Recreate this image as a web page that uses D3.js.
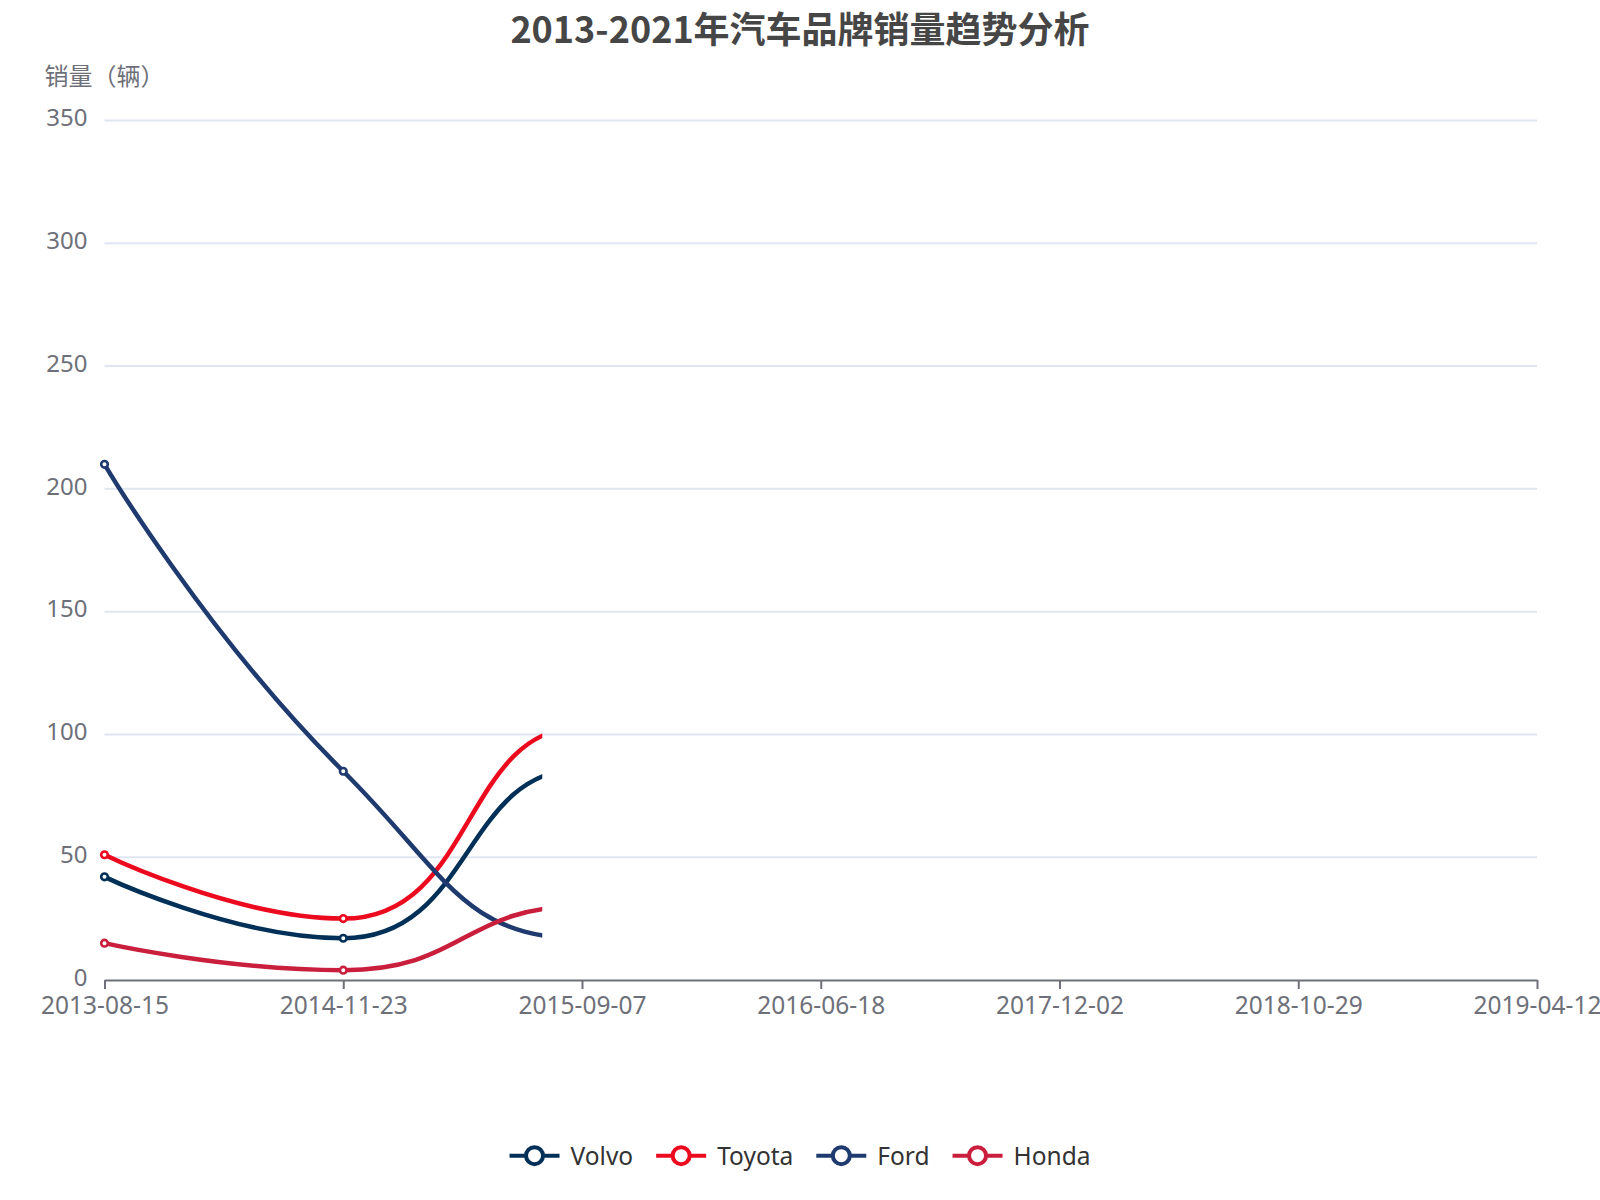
<!DOCTYPE html>
<html>
<head>
<meta charset="utf-8">
<script src="https://cdn.jsdelivr.net/npm/d3@7/dist/d3.min.js"></script>
<style>
  html, body { margin: 0; padding: 0; background: #ffffff; }
  svg { display: block; font-family: "Noto Sans", "Noto Sans CJK SC", sans-serif; }
</style>
</head>
<body>
<svg id="chart" width="1600" height="1200"></svg>
<script>
// ---------------- data ----------------
const titleText = "2013-2021年汽车品牌销量趋势分析";
const yAxisName = "销量（辆）";
const categories = ["2013-08-15", "2014-11-23", "2015-09-07", "2016-06-18", "2017-12-02", "2018-10-29", "2019-04-12"];
const yTicks = [0, 50, 100, 150, 200, 250, 300, 350];
const seriesNames = ["Volvo", "Toyota", "Ford", "Honda"];
const volvoValues  = [42, 17, 86];
const toyotaValues = [51, 25, 103];
const fordValues   = [210, 85, 17];
const hondaValues  = [15, 4, 30];
const seriesColors = ["#003057", "#eb0a1e", "#1f3a6e", "#c91f3c"];

const seriesList = [volvoValues, toyotaValues, fordValues, hondaValues].map((vals, i) => ({
  name: seriesNames[i], color: seriesColors[i],
  points: vals.map((v, j) => ({ cat: categories[j], value: v }))
}));

// ---------------- layout ----------------
const W = 1600, H = 1200;
const plot = { left: 104.5, right: 1537, top: 120.5, bottom: 980 };
const revealFraction = 0.3056; // portion of the line drawn (frame of the reveal)

const svg = d3.select("#chart");

const x = d3.scalePoint().domain(categories).range([plot.left, plot.right]).padding(0);
const y = d3.scaleLinear().domain([0, 350]).range([plot.bottom, plot.top]);

// ---------------- smooth curve (ECharts-like, clamped) ----------------
function SmoothClamped(context) { this._context = context; }
SmoothClamped.prototype = {
  areaStart() { this._line = 0; },
  areaEnd() { this._line = NaN; },
  lineStart() { this._pts = []; },
  point(px, py) { this._pts.push([+px, +py]); },
  lineEnd() {
    const p = this._pts, ctx = this._context, n = p.length, smooth = 0.5;
    if (!n) return;
    ctx.moveTo(p[0][0], p[0][1]);
    let cpx0 = p[0][0], cpy0 = p[0][1];
    for (let i = 1; i < n; i++) {
      const X = p[i][0], Y = p[i][1];
      const PX = p[i - 1][0], PY = p[i - 1][1];
      // final point treated as a turning point (mirror of previous segment)
      const nxt = p[i + 1] || [2 * X - PX, PY];
      const NX = nxt[0], NY = nxt[1];
      let vx = NX - PX, vy = NY - PY;
      const lenPrev = Math.hypot(X - PX, Y - PY);
      const lenNext = Math.hypot(NX - X, NY - Y);
      const ratio = lenNext / (lenNext + lenPrev);
      let nx0 = X + vx * smooth * ratio, ny0 = Y + vy * smooth * ratio;
      nx0 = Math.max(Math.min(nx0, Math.max(NX, X)), Math.min(NX, X));
      ny0 = Math.max(Math.min(ny0, Math.max(NY, Y)), Math.min(NY, Y));
      vx = nx0 - X; vy = ny0 - Y;
      let cpx1 = X - vx * lenPrev / lenNext, cpy1 = Y - vy * lenPrev / lenNext;
      cpx1 = Math.max(Math.min(cpx1, Math.max(PX, X)), Math.min(PX, X));
      cpy1 = Math.max(Math.min(cpy1, Math.max(PY, Y)), Math.min(PY, Y));
      vx = X - cpx1; vy = Y - cpy1;
      nx0 = X + vx * lenNext / lenPrev; ny0 = Y + vy * lenNext / lenPrev;
      ctx.bezierCurveTo(cpx0, cpy0, cpx1, cpy1, X, Y);
      cpx0 = nx0; cpy0 = ny0;
    }
  }
};
const smoothCurve = ctx => new SmoothClamped(ctx);

// ---------------- title ----------------
svg.append("text")
  .attr("x", W / 2).attr("y", 27)
  .attr("text-anchor", "middle").attr("dominant-baseline", "central")
  .attr("font-family", "'Noto Sans CJK SC', 'Noto Sans', sans-serif")
  .attr("font-size", 36).attr("font-weight", "bold").attr("fill", "#464646")
  .text(titleText);

// ---------------- grid ----------------
svg.append("g").selectAll("line").data(yTicks.filter(d => d > 0)).join("line")
  .attr("x1", plot.left).attr("x2", plot.right)
  .attr("y1", d => y(d)).attr("y2", d => y(d))
  .attr("stroke", "#e0e6f1").attr("stroke-width", 2);

// ---------------- y axis (labels only) ----------------
const yAxis = d3.axisLeft(y).tickValues(yTicks).tickSize(0).tickPadding(17);
const yg = svg.append("g").attr("transform", `translate(${plot.left},0)`).call(yAxis);
yg.select(".domain").remove();
yg.selectAll("text").attr("font-size", 24).attr("fill", "#6e7079")
  .attr("font-family", "'Noto Sans', sans-serif").attr("dy", "0.22em");

svg.append("text")
  .attr("x", plot.left).attr("y", 74)
  .attr("text-anchor", "middle").attr("dominant-baseline", "central")
  .attr("font-family", "'Noto Sans CJK SC', sans-serif")
  .attr("font-size", 24).attr("fill", "#6e7079")
  .text(yAxisName);

// ---------------- x axis ----------------
const xAxis = d3.axisBottom(x).tickSizeOuter(0).tickSizeInner(9).tickPadding(8);
const xg = svg.append("g").attr("transform", `translate(0,${plot.bottom})`).call(xAxis);
xg.select(".domain").attr("stroke", "#6e7079").attr("stroke-width", 2);
xg.selectAll(".tick line").attr("stroke", "#6e7079").attr("stroke-width", 2);
xg.selectAll("text").attr("font-size", 24.5).attr("fill", "#6e7079")
  .attr("font-family", "'Noto Sans', sans-serif");

// ---------------- series ----------------
const defs = svg.append("defs");
defs.append("clipPath").attr("id", "reveal").append("rect")
  .attr("x", 0).attr("y", 0)
  .attr("width", plot.left + revealFraction * (plot.right - plot.left))
  .attr("height", H);

const line = d3.line().x(d => x(d.cat)).y(d => y(d.value)).curve(smoothCurve);
const seriesG = svg.append("g").attr("clip-path", "url(#reveal)");

seriesList.forEach(s => {
  const g = seriesG.append("g");
  g.append("path").datum(s.points)
    .attr("d", line).attr("fill", "none")
    .attr("stroke", s.color).attr("stroke-width", 4.5)
    .attr("stroke-linejoin", "round");
  g.selectAll("circle").data(s.points).join("circle")
    .attr("cx", d => x(d.cat)).attr("cy", d => y(d.value))
    .attr("r", 3.3).attr("fill", "#ffffff")
    .attr("stroke", s.color).attr("stroke-width", 2.6);
});

// ---------------- legend ----------------
const iconW = 50, iconTextGap = 11, itemGap = 23, legendY = 1155.7;
const legend = svg.append("g");
const items = legend.selectAll("g").data(seriesList).join("g");
items.append("line").attr("x1", 0).attr("x2", iconW).attr("y1", 0).attr("y2", 0)
  .attr("stroke", d => d.color).attr("stroke-width", 4);
items.append("circle").attr("cx", iconW / 2).attr("cy", 0).attr("r", 8.5)
  .attr("fill", "#ffffff").attr("stroke", d => d.color).attr("stroke-width", 4);
items.append("text").attr("x", iconW + iconTextGap).attr("y", 0)
  .attr("dominant-baseline", "central")
  .attr("font-size", 24.5).attr("fill", "#333333")
  .attr("font-family", "'Noto Sans', sans-serif")
  .text(d => d.name);
const widths = [];
items.each(function () { widths.push(iconW + iconTextGap + this.querySelector("text").getComputedTextLength()); });
const totalW = d3.sum(widths) + itemGap * (widths.length - 1);
let cursor = W / 2 - totalW / 2;
items.each(function (d, i) {
  d3.select(this).attr("transform", `translate(${cursor},${legendY})`);
  cursor += widths[i] + itemGap;
});
</script>
</body>
</html>
